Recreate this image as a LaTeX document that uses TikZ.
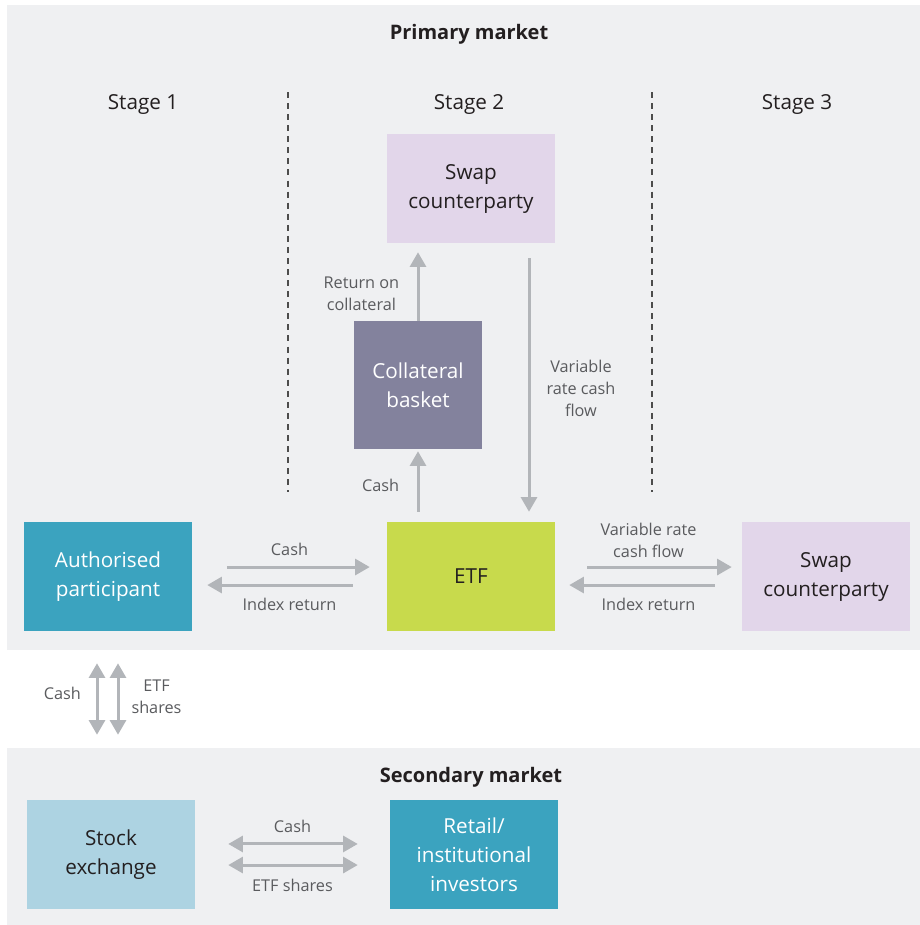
\documentclass[tikz,border=0pt]{standalone}
\usepackage{fontspec}
\setmainfont{Open Sans}
\usetikzlibrary{arrows.meta,positioning}
\definecolor{bandgray}{HTML}{EFF0F2}
\definecolor{lavender}{HTML}{E2D6EA}
\definecolor{slate}{HTML}{83829D}
\definecolor{lime}{HTML}{C8DA4C}
\definecolor{teal}{HTML}{3BA3BF}
\definecolor{paleblue}{HTML}{ADD3E2}
\definecolor{flowgray}{HTML}{B2B5B9}
\definecolor{notegray}{HTML}{5A5B5E}
\definecolor{darktext}{HTML}{231F20}
\tikzstyle{box}=[rectangle,
                 minimum width=126pt,
                 minimum height=81.75pt,
                 inner sep=0pt,
                 align=center,
                 text=darktext,
                 font=\fontsize{15.5}{21.75}\selectfont]
\tikzstyle{flow}=[line width=2.25pt,
                  draw=flowgray,
                  -{Triangle[length=11pt,width=12pt]}]
\tikzstyle{twoway}=[flow,
                    {Triangle[length=11pt,width=12pt]}-{Triangle[length=11pt,width=12pt]}]
\tikzstyle{note}=[text=notegray,
                  align=center,
                  inner sep=1pt,
                  font=\fontsize{12.2}{16.5}\selectfont]
\tikzstyle{stage}=[text=darktext,font=\fontsize{15.5}{19}\selectfont]
\tikzstyle{header}=[text=darktext,font=\fontsize{15}{19}\selectfont\bfseries]
\tikzstyle{divider}=[draw=black!70,line width=0.9pt,dash pattern=on 4.5pt off 3.8pt]

\begin{document}
\begin{tikzpicture}[x=0.75pt,y=-0.75pt]
    \useasboundingbox (0,0) rectangle (920,925);
    % market bands
    \fill[bandgray] (7,5) rectangle (920,650);
    \fill[bandgray] (7,748) rectangle (920,925);
    \node[header] (primary) at (469,34) {Primary market};
    \node[header] (secondary) at (471,777) {Secondary market};
    \node[stage] (stage1) at (143,104) {Stage 1};
    \node[stage] (stage2) at (469,104) {Stage 2};
    \node[stage] (stage3) at (797,104) {Stage 3};
    \draw[divider] (288,92) -- (288,492);
    \draw[divider] (652,92) -- (652,492);

    % primary market
    \node[box,fill=teal,text=white] (ap) at (108,576.5) {Authorised\\participant};
    \node[box,fill=lime,node distance=272.25pt,right of=ap] (etf) {ETF};
    \node[box,fill=lavender,node distance=266.25pt,right of=etf] (swapr) {Swap\\counterparty};
    \node[box,fill=lavender] (swapt) at (471,188.5) {Swap\\counterparty};
    \node[box,fill=slate,text=white,minimum width=96pt,minimum height=96pt] (basket) at (418,385) {Collateral\\basket};

    \draw[flow,shorten >=6.75pt] (basket.north) -- node[note,pos=0.35,left=12pt] {Return on\\collateral} (basket.north |- swapt.south);
    \draw[flow,shorten <=7.5pt,shorten >=1.5pt] (basket.south |- etf.north) -- node[note,left=12pt] {Cash} (basket.south);
    \draw[flow,shorten <=11.25pt,shorten >=7.5pt] ([xshift=43.5pt]swapt.south) -- node[note,pos=0.52,right=11pt] {Variable\\rate cash\\flow} ([xshift=43.5pt]etf.north);

    \draw[flow,shorten <=26pt,shorten >=12.75pt] ([yshift=7.1pt]ap.east) -- node[note,above=6.5pt] {Cash} ([yshift=7.1pt]etf.west);
    \draw[flow,shorten <=25.5pt,shorten >=11.25pt] ([yshift=-6.4pt]etf.west) -- node[note,below=7.5pt] {Index return} ([yshift=-6.4pt]ap.east);
    \draw[flow,shorten <=24pt,shorten >=7.5pt] ([yshift=7.1pt]etf.east) -- node[note,above=5pt] {Variable rate\\cash flow} ([yshift=7.1pt]swapr.west);
    \draw[flow,shorten <=20.25pt,shorten >=10.5pt] ([yshift=-6.4pt]swapr.west) -- node[note,below=7.5pt] {Index return} ([yshift=-6.4pt]etf.east);

    % secondary market
    \node[box,fill=paleblue] (stock) at (111,854.5) {Stock\\exchange};
    \node[box,fill=teal,text=white,node distance=272.25pt,right of=stock] (retail) {Retail/\\institutional\\investors};

    \draw[twoway,shorten <=24pt,shorten >=48.75pt] ([xshift=-8.25pt]ap.south) -- node[note,pos=0.37,left=10pt] {Cash} ([xshift=-8.25pt]ap.south |- stock.north);
    \draw[twoway,shorten <=24pt,shorten >=48.75pt] ([xshift=7.5pt]ap.south) -- node[note,pos=0.39,right=8pt] {ETF\\shares} ([xshift=7.5pt]ap.south |- stock.north);
    \draw[twoway,shorten <=24.75pt,shorten >=24pt] ([yshift=7.9pt]stock.east) -- node[note,above=6pt] {Cash} ([yshift=7.9pt]retail.west);
    \draw[twoway,shorten <=24.75pt,shorten >=24pt] ([yshift=-7.9pt]stock.east) -- node[note,below=8.5pt] {ETF shares} ([yshift=-7.9pt]retail.west);
\end{tikzpicture}
\end{document}
